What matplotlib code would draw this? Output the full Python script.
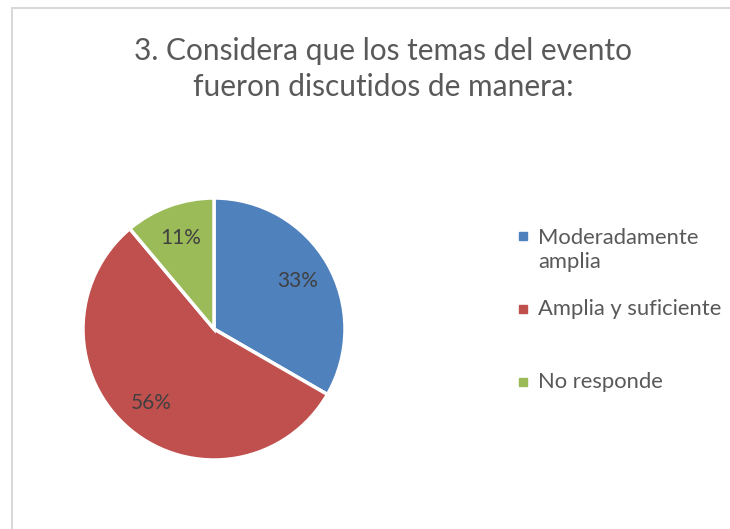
import matplotlib.pyplot as plt
from matplotlib.patches import Rectangle

# respuestas (3/9, 5/9, 1/9)
etiquetas = ['Moderadamente\namplia', 'Amplia y suficiente', 'No responde']
valores = [3, 5, 1]
colores = ['#4F81BD', '#C0504D', '#9BBB59']
titulo = '3. Considera que los temas del evento\nfueron discutidos de manera:'

plt.rcParams['font.family'] = ['Lato', 'DejaVu Sans']
texto = '#595959'

W, H = 730, 529
fig = plt.figure(figsize=(W / 100, H / 100), dpi=100)

# marco del grafico
fig.patches.append(Rectangle((12 / W, -0.1), 1.2, 1.1 - 8 / H, transform=fig.transFigure,
                             fill=False, edgecolor='#D9D9D9', linewidth=1.5))

cx, cy, r = 214, 329, 131
ax = fig.add_axes([(cx - r) / W, (H - cy - r) / H, 2 * r / W, 2 * r / H])
ax.pie(valores, colors=colores, startangle=90, counterclock=False,
       autopct='%1.0f%%', pctdistance=0.74,
       wedgeprops=dict(edgecolor='white', linewidth=2.5),
       textprops=dict(color='#404040', fontsize=15))
ax.set_xlim(-1, 1)
ax.set_ylim(-1, 1)
ax.set_aspect('equal')
ax.axis('off')

fig.text(383 / W, 1 - 69 / H, titulo, ha='center', va='center', fontsize=21.5,
         color=texto, linespacing=1.32)

# leyenda
ys = [250, 309, 382]
for lab, col, y in zip(etiquetas, colores, ys):
    ymark = y - 14 if '\n' in lab else y
    fig.patches.append(Rectangle((519 / W, 1 - (ymark + 4) / H), 8 / W, 8 / H,
                                 transform=fig.transFigure, color=col))
    fig.text(538 / W, 1 - y / H, lab, ha='left', va='center', fontsize=15.8,
             color=texto, linespacing=1.3)

fig.savefig('out.png', dpi=100)
